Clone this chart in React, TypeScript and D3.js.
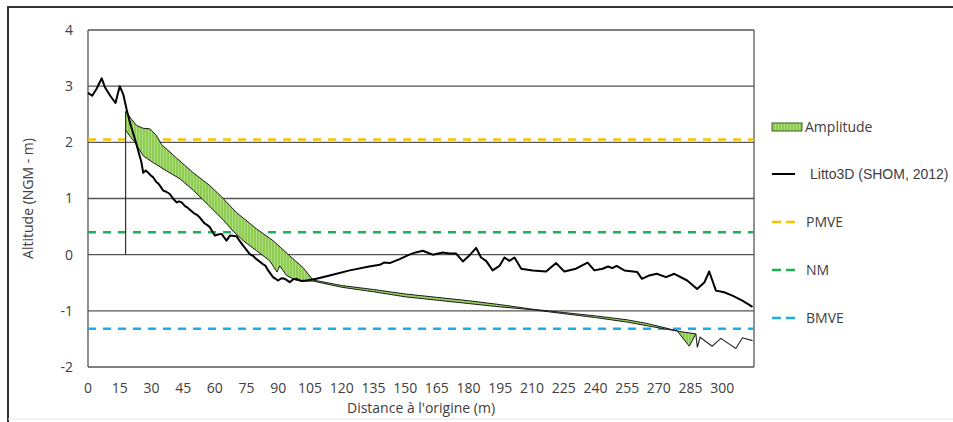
import React from 'react';
import * as d3 from 'd3';

// profil Litto3D (SHOM, 2012) : [distance (m), altitude (m NGM)]
const litto3d: [number, number][] = [
  [0, 2.88], [2, 2.83], [4, 2.95], [6.5, 3.14], [8, 2.98], [10.5, 2.83], [13, 2.7],
  [15, 3.0], [16.7, 2.85], [18.3, 2.58], [20, 2.33], [22.2, 2.06], [25.3, 1.64],
  [26.1, 1.46], [27.3, 1.5], [28.5, 1.46], [29.7, 1.41], [30.8, 1.38], [31.6, 1.33],
  [32.4, 1.29], [33.2, 1.27], [34, 1.23], [35.6, 1.14], [37, 1.12], [38.7, 1.08],
  [40.2, 1.0], [41.9, 0.93], [43, 0.95], [44.3, 0.93], [46, 0.86], [47, 0.84], [48.2, 0.8],
  [50, 0.74], [51.5, 0.71], [52.9, 0.66], [55, 0.56], [56.3, 0.53], [57.6, 0.49], [60, 0.34],
  [61.5, 0.36], [63.2, 0.37], [65.5, 0.25], [67.1, 0.34], [70.2, 0.33], [71.8, 0.24],
  [73.4, 0.16], [76.5, 0.01], [78, -0.02], [79.7, -0.08], [82.8, -0.17], [84, -0.2],
  [85.2, -0.28], [87.5, -0.4], [89.9, -0.46], [91.5, -0.42], [93.1, -0.43], [95.4, -0.49],
  [97, -0.44], [98.6, -0.43], [101, -0.47], [103.3, -0.46], [108, -0.43], [114.3, -0.37],
  [123.8, -0.28], [133, -0.21], [138, -0.18], [140, -0.14], [142.7, -0.15], [147.4, -0.08],
  [152, 0.0], [155, 0.04], [158.4, 0.07], [161, 0.03], [163.1, 0.0], [167.8, 0.04], [171, 0.02],
  [174.1, 0.02], [177.3, -0.12], [180, -0.03], [183.6, 0.12], [185.9, -0.05], [188.3, -0.11],
  [191.4, -0.28], [194.6, -0.2], [197, -0.05], [199.3, -0.11], [201.7, -0.05], [204.9, -0.25],
  [210.3, -0.28], [216.7, -0.3], [221.4, -0.15], [225.3, -0.3], [230.8, -0.25], [236.3, -0.14],
  [239.5, -0.28], [243.4, -0.25], [246, -0.21], [248, -0.24], [250, -0.2], [253.7, -0.28],
  [259.8, -0.31], [262, -0.43], [265.5, -0.37], [269, -0.34], [273.4, -0.4], [277.3, -0.34],
  [283.4, -0.46], [288.1, -0.61], [291.6, -0.49], [293.8, -0.3], [297, -0.64], [300.9, -0.67],
  [304.8, -0.73], [309.5, -0.82], [314.3, -0.93],
];

// limite haute de l'amplitude
const amplitudeHaut: [number, number][] = [
  [17.8, 2.55], [18.3, 2.53], [20.6, 2.41], [23, 2.3], [26.1, 2.25], [29.3, 2.24],
  [32.4, 2.12], [34.8, 1.96], [41.9, 1.72], [49.7, 1.46], [57.6, 1.23], [62.4, 1.06],
  [70.2, 0.75], [79.7, 0.46], [87.5, 0.25], [95.4, -0.02], [101.7, -0.23], [106.4, -0.45],
  [120, -0.55], [135, -0.62], [150, -0.7], [165, -0.76], [180, -0.82], [195, -0.89],
  [210, -0.97], [225, -1.03], [240, -1.09], [255, -1.16], [265, -1.23], [272.6, -1.3],
  [280, -1.37], [287.5, -1.41],
];

// limite basse de l'amplitude
const amplitudeBas: [number, number][] = [
  [17.8, 2.22], [20, 2.1], [22.2, 2.0], [26.1, 1.76], [30.8, 1.64], [37.2, 1.49],
  [43.5, 1.35], [50, 1.14], [57, 0.88], [63.9, 0.62], [68.6, 0.42], [73.4, 0.25],
  [79.7, 0.07], [86, -0.11], [89.4, -0.31], [90.7, -0.2], [93.9, -0.37], [98.6, -0.46],
  [101.7, -0.47], [106.4, -0.47], [120, -0.58], [135, -0.66], [150, -0.75], [165, -0.81],
  [180, -0.87], [195, -0.93], [210, -0.98], [225, -1.05], [240, -1.12], [255, -1.2],
  [265, -1.27], [272.6, -1.32], [278.7, -1.36], [284.4, -1.63], [287.5, -1.41],
];

const profilBasDebut: [number, number][] = [[17.8, 0], [17.8, 2.22]];
const profilBasFin: [number, number][] = [
  [287.5, -1.41], [288.2, -1.65], [289.5, -1.47], [295.2, -1.63], [299.3, -1.49],
  [306.4, -1.67], [309.5, -1.48], [314.3, -1.53],
];

const niveaux = [
  { name: 'PMVE', value: 2.05, color: '#F5C400' },
  { name: 'NM', value: 0.4, color: '#1FAF55' },
  { name: 'BMVE', value: -1.32, color: '#1BAEE8' },
];

const xTicks = d3.range(0, 301, 15);
const yTicks = [-2, -1, 0, 1, 2, 3, 4];

const W = 953;
const H = 422;
const font = '"Open Sans", sans-serif';

export default function App() {
  const x = d3.scaleLinear().domain([0, 315]).range([88, 754]);
  const y = d3.scaleLinear().domain([-2, 4]).range([367, 30]);

  const line = d3
    .line<[number, number]>()
    .x(d => x(d[0]))
    .y(d => y(d[1]));

  const polygone = amplitudeHaut.concat(amplitudeBas.slice().reverse());

  const legendX = 772;

  return (
    <svg
      width={W}
      height={H}
      style={{ position: 'absolute', left: 0, top: 0, background: '#fff' }}
    >
      <defs>
        <pattern id="hachures" width="3" height="6" patternUnits="userSpaceOnUse">
          <rect width="3" height="6" fill="#8ECD52" />
          <line x1="1.5" y1="0" x2="1.5" y2="6" stroke="#AEDC80" strokeWidth="1" />
        </pattern>
      </defs>

      {/* cadre */}
      <line x1={8} y1={7} x2={W} y2={7} stroke="#333" strokeWidth={2} />
      <line x1={8} y1={6} x2={8} y2={H} stroke="#333" strokeWidth={2} />
      <line x1={8} y1={419} x2={W} y2={419} stroke="#e4e4e4" strokeWidth={1} />

      {/* grille */}
      {yTicks.map(t => (
        <line key={t} x1={x(0)} x2={x(315)} y1={y(t)} y2={y(t)} stroke="#555" strokeWidth={1.3} />
      ))}
      <line x1={x(0)} x2={x(0)} y1={y(4)} y2={y(-2)} stroke="#555" strokeWidth={1.3} />
      <line x1={x(315)} x2={x(315)} y1={y(4)} y2={y(-2)} stroke="#555" strokeWidth={1.3} />

      {/* niveaux */}
      {niveaux.map(n => (
        <line
          key={n.name}
          x1={x(0)}
          x2={x(315)}
          y1={y(n.value)}
          y2={y(n.value)}
          stroke={n.color}
          strokeWidth={2.5}
          strokeDasharray="8,7"
        />
      ))}

      {/* profil bas fin */}
      <path d={line(profilBasDebut) || ''} fill="none" stroke="#222" strokeWidth={1.1} />
      <path d={line(profilBasFin) || ''} fill="none" stroke="#222" strokeWidth={1.1} />

      {/* amplitude */}
      <path
        d={(line(polygone) || '') + 'Z'}
        fill="url(#hachures)"
        stroke="#1a1a1a"
        strokeWidth={1}
        strokeLinejoin="round"
      />

      {/* Litto3D */}
      <path
        d={line(litto3d) || ''}
        fill="none"
        stroke="#000"
        strokeWidth={2}
        strokeLinejoin="round"
      />

      {/* axes */}
      {yTicks.map(t => (
        <text
          key={t}
          x={73}
          y={y(t)}
          dy="0.35em"
          textAnchor="end"
          fontFamily={font}
          fontSize={14}
          fill="#404040"
        >
          {t}
        </text>
      ))}
      {xTicks.map(t => (
        <text
          key={t}
          x={x(t)}
          y={393}
          textAnchor="middle"
          fontFamily={font}
          fontSize={14}
          fill="#404040"
        >
          {t}
        </text>
      ))}
      <text
        transform={`translate(33,${(y(4) + y(-2)) / 2}) rotate(-90)`}
        textAnchor="middle"
        fontFamily={font}
        fontSize={14}
        fill="#404040"
      >
        Altitude (NGM - m)
      </text>
      <text
        x={(x(0) + x(315)) / 2}
        y={413}
        textAnchor="middle"
        fontFamily={font}
        fontSize={14}
        fill="#404040"
      >
        Distance à l'origine (m)
      </text>

      {/* légende */}
      <rect x={legendX} y={123} width={30} height={8} fill="url(#hachures)" stroke="#3a5f1e" strokeWidth={1} />
      <text x={805} y={132} fontFamily={font} fontSize={14} fill="#404040">
        Amplitude
      </text>
      <line x1={legendX} x2={legendX + 23} y1={174} y2={174} stroke="#000" strokeWidth={2} />
      <text x={810} y={179} fontFamily='"Liberation Sans", Arial, sans-serif' fontSize={14} fill="#404040">
        Litto3D (SHOM, 2012)
      </text>
      {niveaux.map((n, i) => {
        const ly = 222 + i * 48;
        return (
          <g key={n.name}>
            <line
              x1={legendX}
              x2={legendX + 23}
              y1={ly}
              y2={ly}
              stroke={n.color}
              strokeWidth={2.5}
              strokeDasharray="9,5"
            />
            <text x={806} y={ly + 5} fontFamily={font} fontSize={14} fill="#404040">
              {n.name}
            </text>
          </g>
        );
      })}
    </svg>
  );
}
